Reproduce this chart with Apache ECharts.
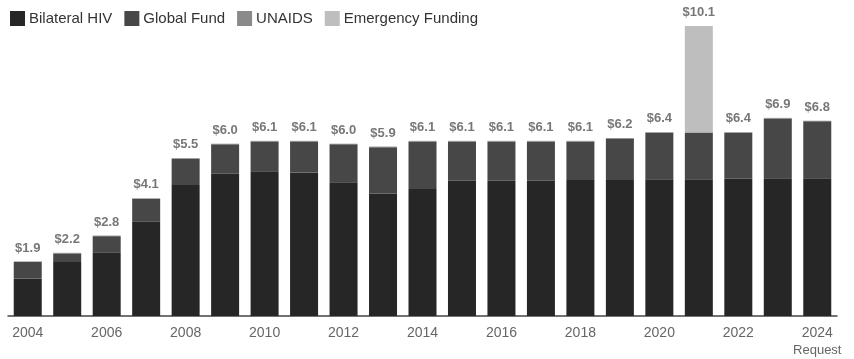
<!DOCTYPE html>
<html>
<head>
<meta charset="utf-8">
<script src="https://cdn.jsdelivr.net/npm/echarts@6/dist/echarts.min.js"></script>
<style>
  html, body { margin: 0; padding: 0; background: #fff; }
  #chart { width: 854px; height: 359px; }
</style>
</head>
<body>
<div id="chart"></div>
<script>
// US global HIV funding by fiscal year, billions of dollars
const years = ['2004','2005','2006','2007','2008','2009','2010','2011','2012','2013','2014',
               '2015','2016','2017','2018','2019','2020','2021','2022','2023','2024'];
const bilateralHIV = [1.30, 1.88, 2.20, 3.28, 4.56, 4.96, 5.04, 5.00, 4.66, 4.27, 4.42,
                      4.71, 4.71, 4.71, 4.74, 4.74, 4.76, 4.76, 4.78, 4.80, 4.80];
const globalFund   = [0.58, 0.30, 0.58, 0.80, 0.92, 1.02, 1.04, 1.08, 1.32, 1.61, 1.66,
                      1.37, 1.37, 1.37, 1.34, 1.44, 1.62, 1.62, 1.60, 2.08, 1.98];
const unaids       = [0.02, 0.02, 0.02, 0.02, 0.02, 0.02, 0.02, 0.02, 0.02, 0.02, 0.02,
                      0.02, 0.02, 0.02, 0.02, 0.02, 0.02, 0.02, 0.02, 0.02, 0.02];
const emergency    = [0, 0, 0, 0, 0, 0, 0, 0, 0, 0, 0,
                      0, 0, 0, 0, 0, 0, 3.70, 0, 0, 0];
const totalLabels  = ['$1.9','$2.2','$2.8','$4.1','$5.5','$6.0','$6.1','$6.1','$6.0','$5.9','$6.1',
                      '$6.1','$6.1','$6.1','$6.1','$6.2','$6.4','$10.1','$6.4','$6.9','$6.8'];

const totals = years.map((_, i) => +(bilateralHIV[i] + globalFund[i] + unaids[i] + emergency[i]).toFixed(2));

const chart = echarts.init(document.getElementById('chart'), null, { renderer: 'canvas' });

const barCommon = { type: 'bar', stack: 'total', barWidth: 28, emphasis: { disabled: true } };

chart.setOption({
  animation: false,
  textStyle: { fontFamily: 'Liberation Sans, Arial, sans-serif' },
  legend: {
    data: ['Bilateral HIV', 'Global Fund', 'UNAIDS', 'Emergency Funding'],
    left: 5, top: 6,
    itemWidth: 15, itemHeight: 15, itemGap: 12,
    icon: 'rect',
    textStyle: { fontSize: 15, color: '#333', padding: [0, 0, 0, -1] }
  },
  grid: { left: 8, right: 17, top: 26, bottom: 43 },
  xAxis: {
    type: 'category',
    data: years,
    axisLine: { lineStyle: { color: '#444', width: 1.5 } },
    axisTick: { show: false },
    axisLabel: {
      interval: 1, color: '#666', fontSize: 14, margin: 9, lineHeight: 16,
      formatter: v => v === '2024' ? '2024\n{r|Request}' : v,
      rich: { r: { fontSize: 13, color: '#666', lineHeight: 18 } }
    }
  },
  yAxis: {
    type: 'value', min: 0, max: 10.1,
    show: false, splitLine: { show: false }
  },
  series: [
    Object.assign({ name: 'Bilateral HIV', data: bilateralHIV, itemStyle: { color: '#262626' } }, barCommon),
    Object.assign({ name: 'Global Fund', data: globalFund, itemStyle: { color: '#474747' } }, barCommon),
    Object.assign({ name: 'UNAIDS', data: unaids, itemStyle: { color: '#8a8a8a' } }, barCommon),
    Object.assign({ name: 'Emergency Funding', data: emergency, itemStyle: { color: '#bebebe' } }, barCommon),
    {
      name: 'Total', type: 'scatter', data: totals,
      symbolSize: 0, silent: true,
      label: {
        show: true, position: 'top', distance: 7,
        fontSize: 13, fontWeight: 'bold', color: '#555',
        formatter: p => totalLabels[p.dataIndex]
      }
    }
  ]
});
</script>
</body>
</html>
